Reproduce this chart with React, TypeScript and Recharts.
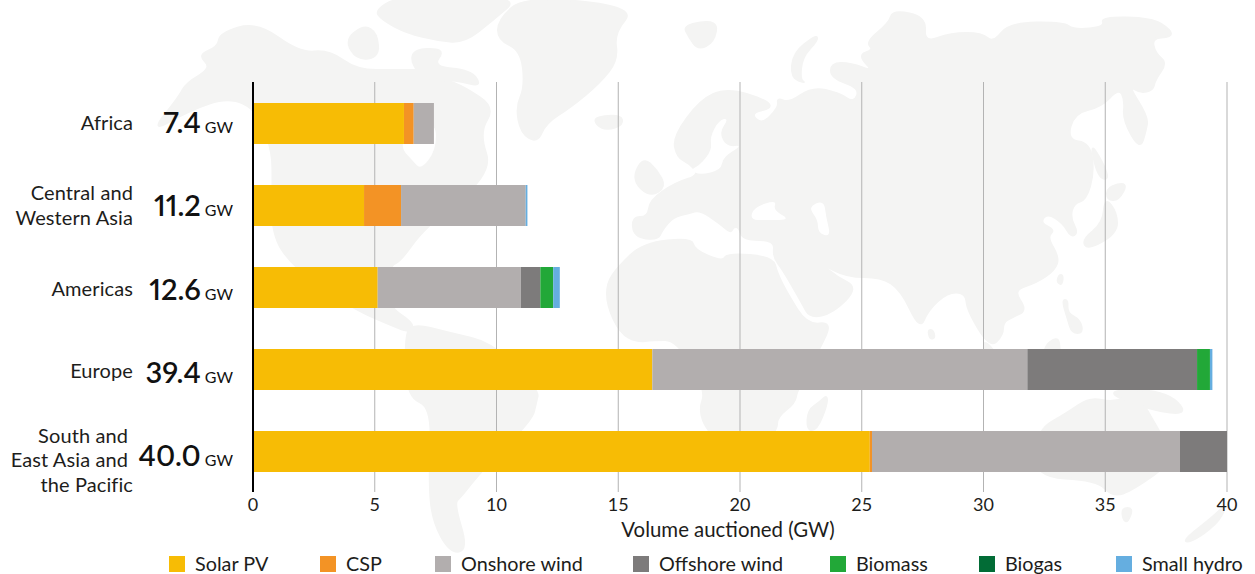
import { BarChart, Bar, XAxis, YAxis, CartesianGrid, Legend, Label } from 'recharts'

const FONT = 'Lato, sans-serif'
const INK = '#1d1d1b'
const MAP_FILL = '#f4f4f3'

const regions = ['Africa', 'Central and Western Asia', 'Americas', 'Europe', 'South and East Asia and the Pacific']
const totals = ['7.4', '11.2', '12.6', '39.4', '40.0']

const solarPv = [6.2, 4.56, 5.12, 16.4, 25.33]
const csp = [0.4, 1.52, 0, 0, 0.09]
const onshoreWind = [0.83, 5.12, 5.88, 15.4, 12.65]
const offshoreWind = [0, 0, 0.8, 6.97, 1.93]
const biomass = [0, 0, 0.53, 0.53, 0]
const biogas = [0, 0, 0, 0, 0]
const smallHydro = [0, 0.07, 0.27, 0.1, 0]

const xTicks = [0, 5, 10, 15, 20, 25, 30, 35, 40]

const data = regions.map((region, i) => ({
	region,
	solarPv: solarPv[i],
	csp: csp[i],
	onshoreWind: onshoreWind[i],
	offshoreWind: offshoreWind[i],
	biomass: biomass[i],
	biogas: biogas[i],
	smallHydro: smallHydro[i],
}))

// label layout per row, offsets from the bar centre
const rowLabels: Record<string, { lines: string[]; dy: number[]; x: number[]; numDy: number }> = {
	Africa: { lines: ['Africa'], dy: [7], x: [133], numDy: 10 },
	'Central and Western Asia': { lines: ['Central and', 'Western Asia'], dy: [-5, 20], x: [133, 133], numDy: 11 },
	Americas: { lines: ['Americas'], dy: [9], x: [133], numDy: 13 },
	Europe: { lines: ['Europe'], dy: [9], x: [133], numDy: 14 },
	'South and East Asia and the Pacific': {
		lines: ['South and', 'East Asia and', 'the Pacific'],
		dy: [-8, 16, 41],
		x: [128, 128, 133],
		numDy: 15,
	},
}

const RegionTick = (props: any) => {
	const { y, payload } = props
	const row = rowLabels[payload.value]
	const total = totals[regions.indexOf(payload.value)]
	return (
		<g fontFamily={FONT} fill={INK}>
			{row.lines.map((line, i) => (
				<text key={line} x={row.x[i]} y={y + row.dy[i]} textAnchor="end" fontSize={20} letterSpacing={0.1}>
					{line}
				</text>
			))}
			<text x={233} y={y + row.numDy} textAnchor="end" fill="#111" style={{ fontVariantNumeric: 'proportional-nums' }}>
				<tspan fontSize={29} fontWeight={600}>{total}</tspan>
				<tspan fontSize={16} dx={4}>GW</tspan>
			</text>
		</g>
	)
}

const legendLeft = [169, 320, 435, 633, 830, 979, 1116]

const renderLegend = (props: any) => (
	<div style={{ position: 'relative', width: 1255, height: 20, fontFamily: FONT, fontSize: 19.8, color: INK }}>
		{props.payload.map((entry: any, i: number) => (
			<div key={entry.value} style={{ position: 'absolute', left: legendLeft[i], top: 0, whiteSpace: 'nowrap', lineHeight: '16px' }}>
				<span style={{ display: 'inline-block', width: 16, height: 16, background: entry.color, marginRight: 10, verticalAlign: 'top' }} />
				<span style={{ position: 'relative', top: -1 }}>{entry.value}</span>
			</div>
		))}
	</div>
)

// faint world map behind the chart
const continents = [
	'257,22 220,33 218,47 198,55 212,68 186,83 179,97 150,133 190,110 229,97 257,110 271,147 273,173 271,233 293,267 350,307 386,323 411,333 414,323 386,305 390,265 400,262 425,227 493,173 479,133 495,107 464,87 446,80 429,70 396,70 357,70 329,50 300,53',
	'345,40 364,25 377,33 379,57 357,60',
	'375,10 400,-4 521,-4 493,20 464,43 436,40 407,33 382,20',
	'407,50 446,48 432,67 471,70 482,87 457,80 421,80',
	'525,-4 636,7 614,33 618,60 600,83 571,107 546,123 537,143 521,133 516,107 525,87 521,50 498,40 498,20',
	'595,117 621,115 623,125 607,130 596,125',
	'643,157 657,170 666,187 650,197 632,180',
	'632,217 648,217 650,200 675,183 700,175 689,163 677,157 673,137 700,100 727,88 766,100 772,108 750,113 762,125 779,107 777,98 789,103 812,87 839,93 854,103 860,88 831,78 831,63 851,63 874,72 858,55 874,50 866,42 889,23 893,10 926,17 924,43 951,33 982,33 993,43 1009,23 1063,22 1074,30 1105,27 1101,17 1152,18 1171,30 1171,37 1152,38 1155,53 1167,63 1155,80 1153,90 1140,93 1128,85 1148,117 1146,130 1140,150 1123,120 1125,100 1119,88 1101,107 1074,113 1067,140 1090,143 1094,173 1086,200 1074,203 1070,217 1078,233 1071,237 1063,223 1047,213 1040,223 1055,230 1047,237 1059,257 1055,270 1036,283 1013,290 1027,310 1013,317 1003,322 1003,335 990,348 967,310 966,293 948,292 928,310 920,330 901,290 881,277 847,277 820,263 837,277 858,288 833,313 810,318 802,303 783,270 773,257 775,240 743,240 739,227 733,227 731,233 719,223 700,210 689,213 673,217 662,230 658,240 634,237',
	'607,283 618,267 643,243 692,238 694,250 723,262 727,253 773,257 777,273 787,293 807,325 832,322 820,348 797,390 795,403 777,417 777,431 745,470 707,431 699,410 706,390 677,340 653,340 637,342 620,333 607,305',
	'827,395 827,405 817,430 807,430 808,410 820,402',
	'411,323 450,333 493,343 539,390 536,403 532,420 482,470 461,497 454,503 468,550 450,553 432,520 429,477 432,407 407,397 405,340',
	'1037,430 1067,413 1090,397 1113,403 1137,393 1157,427 1175,460 1133,490 1113,497 1097,480 1033,477',
	'1122,508 1133,508 1128,522 1123,520',
	'1213,517 1227,503 1220,520 1200,537 1185,543 1187,537',
	'1043,347 1057,337 1060,345 1060,388 1040,388',
	'1062,300 1068,300 1067,313 1080,320 1083,333 1072,333 1068,320',
	'980,340 993,347 1010,388 1000,388',
	'928,330 933,330 935,338 930,339',
	'1105,197 1117,213 1117,233 1088,250 1082,240 1103,223',
	'1107,187 1128,182 1119,200 1107,200',
	'1090,142 1103,163 1109,180 1098,177',
	'1059,275 1063,275 1062,285 1057,282',
	'683,25 718,20 714,42 698,50 689,37',
	'816,35 818,40 802,57 800,80 806,83 791,78 793,53',
	'1100,390 1165,390 1190,415 1150,410',
]
const mapHoles = [
	'400,147 410,125 436,122 436,150 421,170 412,160',
	'729,118 719,120 710,137 712,150 700,165 690,170 700,175 721,170 723,157 743,145 727,147 719,133',
	'750,220 754,207 777,200 773,210 791,220 766,220',
	'808,207 824,200 826,217 831,237 818,233 818,220',
]

// rounds the corners so the outlines read as coastlines
const smoothPath = (pts: string) => {
	const p = pts.split(' ').map((s) => s.split(',').map(Number))
	const mid = (a: number[], b: number[]) => `${(a[0] + b[0]) / 2},${(a[1] + b[1]) / 2}`
	let d = `M${mid(p[p.length - 1], p[0])}`
	p.forEach((pt, i) => {
		d += ` Q${pt[0]},${pt[1]} ${mid(pt, p[(i + 1) % p.length])}`
	})
	return d + 'Z'
}

const WorldMap = () => (
	<svg width={1255} height={574} style={{ position: 'absolute', left: 0, top: 0 }}>
		{continents.map((pts, i) => (
			<path key={i} d={smoothPath(pts)} fill={MAP_FILL} stroke={MAP_FILL} strokeWidth={2} strokeLinejoin="round" />
		))}
		{mapHoles.map((pts, i) => (
			<path key={i} d={smoothPath(pts)} fill="#fff" />
		))}
	</svg>
)

const App = () => (
	<div style={{ position: 'absolute', left: 0, top: 0, width: 1255, height: 574, background: '#fff' }}>
		<WorldMap />
		<div style={{ position: 'absolute', left: 0, top: 0 }}>
			<BarChart
				width={1255}
				height={574}
				data={data}
				layout="vertical"
				barSize={41}
				margin={{ top: 82, right: 28, bottom: 0, left: 0 }}
			>
				<CartesianGrid horizontal={false} stroke="#b3b3b3" verticalValues={xTicks} />
				<XAxis
					type="number"
					domain={[0, 40]}
					ticks={xTicks}
					height={82}
					interval={0}
					axisLine={false}
					tickLine={false}
					tickMargin={0}
					tick={{ fontFamily: FONT, fontSize: 18, fill: INK }}
				>
					<Label value="Volume auctioned (GW)" position="insideTop" offset={31} dx={-12} style={{ fontFamily: FONT, fontSize: 20.4, fill: INK }} />
				</XAxis>
				<YAxis
					type="category"
					dataKey="region"
					width={253}
					interval={0}
					tick={<RegionTick />}
					tickLine={false}
					axisLine={{ stroke: '#000', strokeWidth: 2 }}
				/>
				<Legend
					content={renderLegend}
					itemSorter={null}
					layout="horizontal"
					verticalAlign="middle"
					align="center"
					wrapperStyle={{ top: 556, left: 0, bottom: 'auto', width: 1255 }}
				/>
				<Bar dataKey="solarPv" name="Solar PV" stackId="a" fill="#f7bc05" isAnimationActive={false} />
				<Bar dataKey="csp" name="CSP" stackId="a" fill="#f39325" isAnimationActive={false} />
				<Bar dataKey="onshoreWind" name="Onshore wind" stackId="a" fill="#b2aeae" isAnimationActive={false} />
				<Bar dataKey="offshoreWind" name="Offshore wind" stackId="a" fill="#7d7b7b" isAnimationActive={false} />
				<Bar dataKey="biomass" name="Biomass" stackId="a" fill="#22a838" isAnimationActive={false} />
				<Bar dataKey="biogas" name="Biogas" stackId="a" fill="#026c36" isAnimationActive={false} />
				<Bar dataKey="smallHydro" name="Small hydro" stackId="a" fill="#65aee0" isAnimationActive={false} />
			</BarChart>
		</div>
	</div>
)

export default App
